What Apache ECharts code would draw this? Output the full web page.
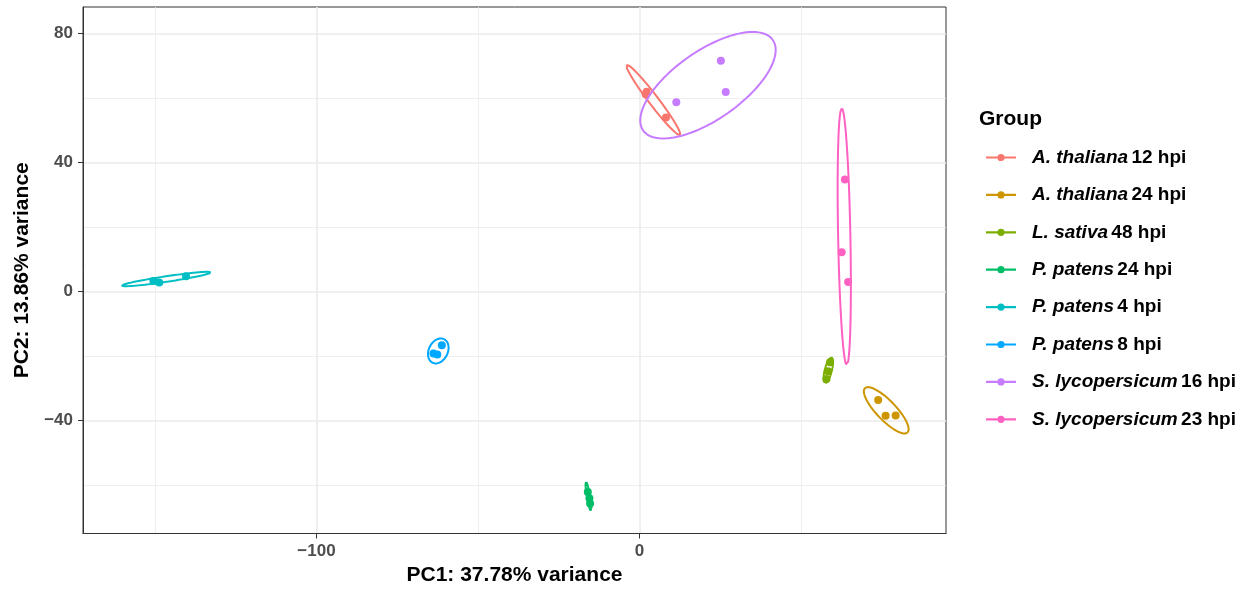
<!DOCTYPE html>
<html>
<head>
<meta charset="utf-8">
<script src="https://cdn.jsdelivr.net/npm/echarts@6/dist/echarts.min.js"></script>
<style>
html,body{margin:0;padding:0;background:#fff;}
#chart{width:1253px;height:597px;}
</style>
</head>
<body>
<div id="chart"></div>
<script>
// ---- data ----
const species = ['A. thaliana','A. thaliana','L. sativa','P. patens','P. patens','P. patens','S. lycopersicum','S. lycopersicum'];
const times = ['12 hpi','24 hpi','48 hpi','24 hpi','4 hpi','8 hpi','16 hpi','23 hpi'];
const colors = ['#F8766D','#CD9600','#7CAE00','#00BE67','#00BFC4','#00A9FF','#C77CFF','#FF61C3'];

// PC1 / PC2 per group (3 replicates each)
const pc1 = [
  [2.2, 1.9, 8.2],
  [73.9, 76.2, 79.3],
  [59.0, 58.4, 57.9],
  [-16.0, -15.5, -15.3],
  [-150.5, -148.7, -140.4],
  [-61.2, -63.8, -62.6],
  [25.2, 26.7, 11.4],
  [63.6, 62.6, 64.6]
];
const pc2 = [
  [62.0, 61.2, 54.0],
  [-33.6, -38.5, -38.4],
  [-21.9, -24.7, -27.1],
  [-62.1, -64.1, -65.7],
  [3.3, 2.85, 4.8],
  [-16.6, -19.2, -19.5],
  [71.6, 61.9, 58.7],
  [34.8, 12.2, 3.0]
];

// 95% ellipses: centre, half major-axis vector, half minor length (data units)
const ellCx = [4.3, 76.4, 58.45, -15.8, -146.5, -62.3, 21.2, 63.4];
const ellCy = [59.4, -36.8, -24.4, -63.5, 3.9, -18.4, 64.0, 17.0];
const ellAx = [8.25, 6.6, 1.03, -0.77, 13.8, 1.8, 20.07, -0.77];
const ellAy = [-10.85, -6.9, 4.03, 4.5, 2.07, 3.66, 14.05, 39.8];
const ellB  = [1.5, 3.0, 1.1, 0.5, 0.85, 2.95, 10.6, 1.9];

// axis ticks
const xMajor = [-100, 0];
const xMinor = [-150, -50, 50];
const yMajor = [-40, 0, 40, 80];
const yMinor = [-60, -20, 20, 60];
const xRange = [-172.3, 94.9];
const yRange = [-75.0, 88.25];

// ---- build ----
const names = species.map((s, i) => s + ' ' + times[i]);

function ellipsePoints(i) {
  const pts = [];
  const ax = ellAx[i], ay = ellAy[i];
  const len = Math.hypot(ax, ay);
  const px = -ay / len * ellB[i], py = ax / len * ellB[i];
  const n = 160;
  for (let k = 0; k <= n; k++) {
    const t = 2 * Math.PI * k / n;
    pts.push([ellCx[i] + ax * Math.cos(t) + px * Math.sin(t),
              ellCy[i] + ay * Math.cos(t) + py * Math.sin(t)]);
  }
  return pts;
}

const series = [];
names.forEach((nm, i) => {
  series.push({
    name: nm, type: 'scatter', xAxisIndex: 0, yAxisIndex: 0,
    data: pc1[i].map((x, k) => [x, pc2[i][k]]),
    symbol: 'circle', symbolSize: 8,
    itemStyle: { color: colors[i], opacity: 1 },
    emphasis: { disabled: true }, z: 3
  });
  series.push({
    name: nm, type: 'line', xAxisIndex: 0, yAxisIndex: 0,
    data: ellipsePoints(i), showSymbol: false, symbol: 'none',
    smooth: false, lineStyle: { color: colors[i], width: 2 },
    itemStyle: { color: colors[i] },
    emphasis: { disabled: true }, z: 4, silent: true
  });
});

const tickFont = { fontFamily: 'Liberation Sans, Arial, sans-serif', fontSize: 17, fontWeight: 'bold', color: '#4D4D4D' };
const minusFmt = v => String(v).replace('-', '\u2212');

const option = {
  animation: false,
  backgroundColor: '#fff',
  grid: {
    left: 83, right: 307, top: 7, bottom: 63.5,
    show: true, borderColor: '#333333', borderWidth: 1, backgroundColor: 'transparent',
    containLabel: false, outerBoundsMode: 'none'
  },
  xAxis: [
    {
      type: 'value', min: xRange[0], max: xRange[1],
      axisLine: { show: true, onZero: false, lineStyle: { color: '#333333', width: 1 } },
      axisTick: { show: true, length: 5, customValues: xMajor, lineStyle: { color: '#333333', width: 1 } },
      axisLabel: Object.assign({ customValues: xMajor, margin: 9, formatter: minusFmt }, tickFont),
      splitLine: { show: true, lineStyle: { color: '#EBEBEB', width: 1.6 } },
      name: 'PC1: 37.78% variance', nameLocation: 'middle', nameGap: 28,
      nameTextStyle: { fontFamily: 'Liberation Sans, Arial, sans-serif', fontSize: 21, fontWeight: 'bold', color: '#000' }
    },
    {
      type: 'value', min: xRange[0], max: xRange[1], position: 'bottom',
      axisLine: { show: false }, axisLabel: { show: false },
      axisTick: { show: false, customValues: xMinor },
      splitLine: { show: true, lineStyle: { color: '#EBEBEB', width: 0.8 } }
    }
  ],
  yAxis: [
    {
      type: 'value', min: yRange[0], max: yRange[1],
      axisLine: { show: true, onZero: false, lineStyle: { color: '#333333', width: 1 } },
      axisTick: { show: true, length: 5, customValues: yMajor, lineStyle: { color: '#333333', width: 1 } },
      axisLabel: Object.assign({ customValues: yMajor, margin: 10, formatter: minusFmt }, tickFont),
      splitLine: { show: true, lineStyle: { color: '#EBEBEB', width: 1.6 } },
      name: 'PC2: 13.86% variance', nameLocation: 'middle', nameGap: 50, nameRotate: 90,
      nameTextStyle: { fontFamily: 'Liberation Sans, Arial, sans-serif', fontSize: 21, fontWeight: 'bold', color: '#000' }
    },
    {
      type: 'value', min: yRange[0], max: yRange[1], position: 'left',
      axisLine: { show: false }, axisLabel: { show: false },
      axisTick: { show: false, customValues: yMinor },
      splitLine: { show: true, lineStyle: { color: '#EBEBEB', width: 0.8 } }
    }
  ],
  legend: {
    show: true, orient: 'vertical', left: 981, top: 143,
    data: names, selectedMode: false,
    itemWidth: 30, itemHeight: 7.2, itemGap: 18.4,
    icon: 'path://M0 2.5H30V4.7H0Z M15 0A3.6 3.6 0 1 1 14.999 0Z',
    formatter: nm => {
      const i = names.indexOf(nm);
      return '{sp|' + species[i] + '} {t|' + times[i] + '}';
    },
    textStyle: {
      padding: [0, 0, 0, 11],
      rich: {
        sp: { fontFamily: 'Liberation Sans, Arial, sans-serif', fontSize: 19, fontWeight: 'bold', fontStyle: 'italic', color: '#000', lineHeight: 19 },
        t: { fontFamily: 'Liberation Sans, Arial, sans-serif', fontSize: 19, fontWeight: 'bold', color: '#000', lineHeight: 19 }
      }
    }
  },
  graphic: [{
    type: 'text', left: 979, top: 109,
    style: { text: 'Group', fontFamily: 'Liberation Sans, Arial, sans-serif', fontSize: 21, fontWeight: 'bold', fill: '#000' }
  }],
  series: series
};

const chart = echarts.init(document.getElementById('chart'), null, { renderer: 'canvas' });
chart.setOption(option);
</script>
</body>
</html>
